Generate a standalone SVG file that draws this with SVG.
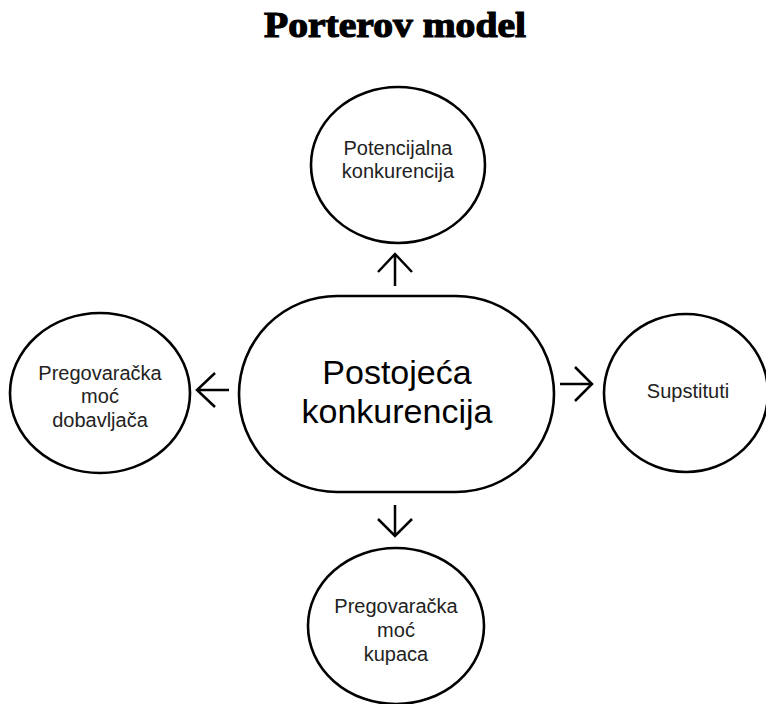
<svg xmlns="http://www.w3.org/2000/svg" width="766" height="704" viewBox="0 0 766 704">
<style>
.node{fill:#fff;stroke:#000;stroke-width:2.6}
.lbl{font-family:"Liberation Sans",Arial,sans-serif;font-size:20px;fill:#222;text-anchor:middle}
.big{font-family:"Liberation Sans",Arial,sans-serif;font-size:34px;fill:#000;text-anchor:middle}
.arr{fill:none;stroke:#000;stroke-width:2.5;stroke-linecap:butt;stroke-linejoin:miter}
.title{font-family:"Liberation Serif","Times New Roman",serif;font-weight:bold;font-size:35px;fill:#000;stroke:#000;stroke-width:1.2;text-anchor:middle}
</style>
<rect width="766" height="704" fill="#fff"/>
<text class="title" x="395" y="37" textLength="262" lengthAdjust="spacingAndGlyphs">Porterov model</text>
<g id="center">
<rect class="node" x="239" y="296" width="315" height="196" rx="98" ry="98"/>
<text class="big" x="397" y="384">Postojeća</text>
<text class="big" x="397" y="423">konkurencija</text>
</g>
<g id="top">
<ellipse class="node" cx="398" cy="165" rx="87" ry="78"/>
<text class="lbl" x="398" y="155">Potencijalna</text>
<text class="lbl" x="398" y="178">konkurencija</text>
</g>
<g id="left">
<ellipse class="node" cx="100" cy="393" rx="90" ry="80"/>
<text class="lbl" x="100" y="380">Pregovaračka</text>
<text class="lbl" x="100" y="403">moć</text>
<text class="lbl" x="100" y="427">dobavljača</text>
</g>
<g id="right">
<ellipse class="node" cx="686" cy="393" rx="82" ry="79"/>
<text class="lbl" x="688" y="398">Supstituti</text>
</g>
<g id="bottom">
<ellipse class="node" cx="396" cy="626" rx="88" ry="78"/>
<text class="lbl" x="396" y="613">Pregovaračka</text>
<text class="lbl" x="396" y="637">moć</text>
<text class="lbl" x="396" y="661">kupaca</text>
</g>
<g id="connectors">
<path class="arr" d="M395 286V254M378 272L395 254L412 272"/>
<path class="arr" d="M395 505V536M378 519L395 536L412 519"/>
<path class="arr" d="M229 390H197M215 373L197 390L215 407"/>
<path class="arr" d="M560 384H592M575 367L592 384L575 401"/>
</g>
</svg>
